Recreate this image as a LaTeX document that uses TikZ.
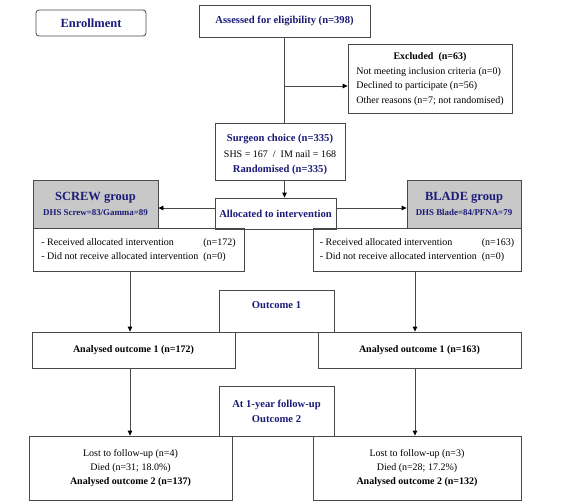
\documentclass[tikz,border=0pt]{standalone}
\usepackage{fontspec}
\setmainfont{Liberation Serif}
\usepackage{xcolor}
\definecolor{cnavy}{HTML}{1B1B78}
\definecolor{cgray}{HTML}{C8C8C8}
\definecolor{cline}{HTML}{484848}
\usetikzlibrary{arrows.meta,positioning}

\begin{document}
\begin{tikzpicture}[x=1pt, y=-1pt,
  box/.style={draw=cline, line width=0.8pt, inner sep=0pt, align=center,
              font=\fontsize{10}{14.5}\selectfont},
  head/.style={box, font=\fontsize{10.6}{15}\selectfont\bfseries, text=cnavy},
  grp/.style={box, fill=cgray, text=cnavy, font=\bfseries},
  arr/.style={-{Triangle[length=5pt,width=4.5pt,color=black]}, line width=0.8pt, color=cline},
  lnk/.style={line width=0.8pt, color=cline}
]
  \useasboundingbox (0,0) rectangle (582,504);
  \coordinate (lcol) at (130,0);
  \coordinate (rcol) at (415,0);

  \node[head, rounded corners=3pt, minimum width=110, minimum height=26,
        font=\fontsize{12.5}{15}\selectfont\bfseries] (enroll) at (91,23) {Enrollment};
  \node[head, minimum width=171, minimum height=32] (assess) at (284.5,21)
    {Assessed for eligibility (n=398)};
  \node[box, minimum width=164, minimum height=69] (excl) at (430,78.5)
    {\begin{tabular}{@{}l@{}}
       \multicolumn{1}{@{}c@{}}{\bfseries Excluded\ \ (n=63)}\\
       Not meeting inclusion criteria (n=0)\\
       Declined to participate (n=56)\\
       Other reasons (n=7; not randomised)
     \end{tabular}};
  \node[box, minimum width=130, minimum height=57, font=\fontsize{10}{15.5}\selectfont] (surgeon) at (280,151.5)
    {\raisebox{-2.5pt}[\height][\depth]{\begin{tabular}{@{}c@{}}
       \textcolor{cnavy}{\fontsize{10.6}{15.5}\selectfont\bfseries Surgeon choice (n=335)}\\
       SHS = 167\ \ /\ \ IM nail = 168\\
       \textcolor{cnavy}{\fontsize{10.6}{15.5}\selectfont\bfseries Randomised (n=335)}
     \end{tabular}}};
  \node[head, minimum width=121, minimum height=31] (allocated) at (275.5,213.5)
    {Allocated to intervention};

  \node[grp, minimum width=125, minimum height=48] (screw) at (95.5,204)
    {{\fontsize{12.5}{15}\selectfont SCREW group}\\[3pt]
     {\fontsize{8.9}{11}\selectfont DHS Screw=83/Gamma=89}};
  \node[grp, minimum width=114, minimum height=48] (blade) at (464,204)
    {{\fontsize{12.5}{15}\selectfont BLADE group}\\[3pt]
     {\fontsize{8.9}{11}\selectfont DHS Blade=84/PFNA=79}};

  \node[box, minimum width=211, minimum height=43] (recvL) at (138.5,249.5)
    {\begin{tabular}{@{}l@{\hspace{5pt}}l@{}}
       - Received allocated intervention & (n=172)\\
       - Did not receive allocated intervention & (n=0)
     \end{tabular}};
  \node[box, minimum width=208, minimum height=43] (recvR) at (417,249.5)
    {\begin{tabular}{@{}l@{\hspace{5pt}}l@{}}
       - Received allocated intervention & (n=163)\\
       - Did not receive allocated intervention & (n=0)
     \end{tabular}};

  \node[head, minimum width=115, minimum height=42] (out1) at (276.5,311)
    {\raisebox{6pt}[\height][\depth]{Outcome 1}};
  \node[box, minimum width=203, minimum height=36, font=\fontsize{10}{14.5}\selectfont\bfseries] (anaL) at (133.5,350)
    {Analysed outcome 1 (n=172)};
  \node[box, minimum width=203, minimum height=36, font=\fontsize{10}{14.5}\selectfont\bfseries] (anaR) at (419.5,350)
    {Analysed outcome 1 (n=163)};

  \node[head, minimum width=115, minimum height=50] (follow) at (276.5,411)
    {At 1-year follow-up\\Outcome 2};
  \node[box, minimum width=203, minimum height=64, font=\fontsize{10}{14}\selectfont] (lostL) at (130.5,468)
    {Lost to follow-up (n=4)\\Died (n=31; 18.0\%)\\\textbf{Analysed outcome 2 (n=137)}};
  \node[box, minimum width=208, minimum height=64, font=\fontsize{10}{14}\selectfont] (lostR) at (417,468)
    {Lost to follow-up (n=3)\\Died (n=28; 17.2\%)\\\textbf{Analysed outcome 2 (n=132)}};

  \draw[lnk] (assess.south) -- (assess.south |- surgeon.north);
  \draw[arr] ([yshift=-7.5pt]excl.west -| assess.south) -- ([yshift=-7.5pt]excl.west);
  \draw[arr] (surgeon.south -| assess.south) -- (allocated.north -| assess.south);
  \draw[arr] ([yshift=5.5pt]allocated.west) -- ([yshift=5.5pt]allocated.west -| screw.east);
  \draw[arr] ([yshift=5.5pt]allocated.east) -- ([yshift=5.5pt]allocated.east -| blade.west);
  \draw[arr] (recvL.south -| lcol) -- (anaL.north -| lcol);
  \draw[arr] (recvR.south -| rcol) -- (anaR.north -| rcol);
  \draw[arr] (anaL.south -| lcol) -- (lostL.north -| lcol);
  \draw[arr] (anaR.south -| rcol) -- (lostR.north -| rcol);
\end{tikzpicture}
\end{document}
